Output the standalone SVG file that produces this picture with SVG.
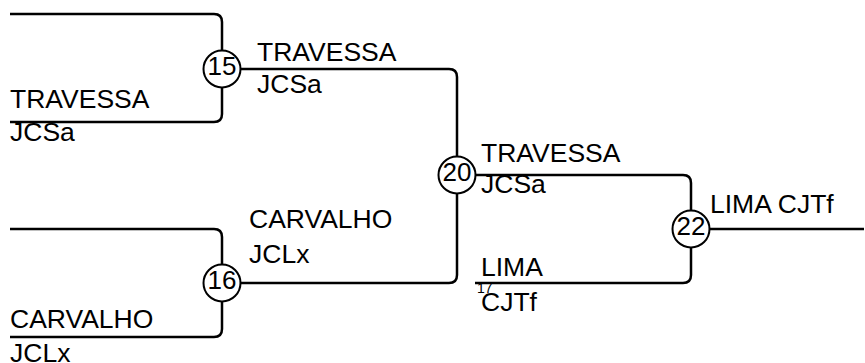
<svg xmlns="http://www.w3.org/2000/svg" width="865" height="363" viewBox="0 0 865 363">
<style>
.bg{fill:#fff}
.ln{fill:none;stroke:#000;stroke-width:2.5}
.nd{fill:#fff;stroke:#000;stroke-width:2}
.t{font-family:"Liberation Sans",Arial,sans-serif;font-size:26.5px;fill:#000}
.n{font-family:"Liberation Sans",Arial,sans-serif;font-size:26px;fill:#000;text-anchor:middle}
.s{font-family:"Liberation Sans",Arial,sans-serif;font-size:14px;fill:#000}
</style>
<rect class="bg" x="0" y="0" width="865" height="363"/>
<g id="connectors">
<path class="ln" d="M10,14 H214 Q222,14 222,22 V50.5"/>
<path class="ln" d="M10,122 H214 Q222,122 222,114 V87.5"/>
<path class="ln" d="M240.5,69 H449 Q457,69 457,77 V156.5"/>
<path class="ln" d="M10,229 H214 Q222,229 222,237 V264.5"/>
<path class="ln" d="M10,337 H214 Q222,337 222,329 V301.5"/>
<path class="ln" d="M240.5,283 H449 Q457,283 457,275 V193.5"/>
<path class="ln" d="M475.5,175 H683 Q691,175 691,183 V210.5"/>
<path class="ln" d="M475,283 H683 Q691,283 691,275 V247.5"/>
<path class="ln" d="M709.5,229 H864"/>
</g>
<g id="labels">
<text class="t" x="10" y="108">TRAVESSA</text>
<text class="t" x="10" y="141">JCSa</text>
<text class="t" x="257" y="61">TRAVESSA</text>
<text class="t" x="257" y="93">JCSa</text>
<text class="t" x="10" y="328">CARVALHO</text>
<text class="t" x="10" y="362">JCLx</text>
<text class="t" x="249" y="228">CARVALHO</text>
<text class="t" x="249" y="263">JCLx</text>
<text class="t" x="481" y="162">TRAVESSA</text>
<text class="t" x="481" y="193">JCSa</text>
<text class="t" x="481" y="276">LIMA</text>
<text class="t" x="481" y="311">CJTf</text>
<text class="s" x="477" y="293">17</text>
<text class="t" x="710" y="213">LIMA CJTf</text>
</g>
<g id="node15"><circle class="nd" cx="222" cy="69" r="18.5"/><text class="n" x="222" y="75">15</text></g>
<g id="node16"><circle class="nd" cx="222" cy="283" r="18.5"/><text class="n" x="222" y="289">16</text></g>
<g id="node20"><circle class="nd" cx="457" cy="175" r="18.5"/><text class="n" x="457" y="181">20</text></g>
<g id="node22"><circle class="nd" cx="691" cy="229" r="18.5"/><text class="n" x="691" y="235">22</text></g>
</svg>
